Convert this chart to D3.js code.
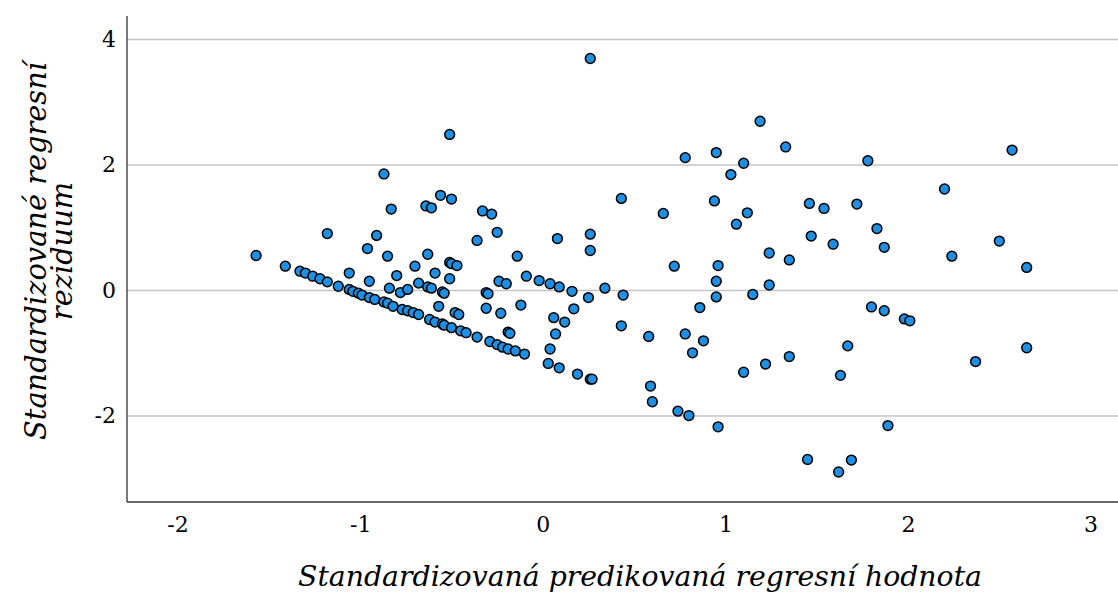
<!DOCTYPE html>
<html><head><meta charset="utf-8">
<script src="https://cdn.jsdelivr.net/npm/d3@7/dist/d3.min.js"></script>
<style>html,body{margin:0;padding:0;background:#fff;}svg{display:block;}</style>
</head><body>
<svg id="c" width="1118" height="593"></svg>
<script>
// Standardized predicted values (x)
const predicted = [
 -0.87,-0.83,-0.64,-0.61,-1.18,-0.91,-0.96,-0.85,-0.63,-1.57,
 -1.41,-1.33,-1.30,-1.26,-1.22,-1.18,-1.12,-1.06,-1.04,-1.01,-0.99,-0.95,-0.92,-0.87,-0.85,-0.82,-0.77,-0.74,-0.71,-0.68,-0.62,-0.59,-0.55,-0.54,-0.50,-0.45,-0.42,-0.36,-0.29,-0.25,-0.22,-0.19,-0.15,-0.10,
 -1.06,-0.95,-0.80,-0.84,-0.78,-0.74,-0.70,-0.68,-0.63,-0.61,-0.59,-0.55,-0.54,-0.57,
 -0.56,-0.50,-0.51,-0.33,-0.28,-0.25,-0.36,-0.51,-0.50,-0.47,-0.51,-0.31,-0.30,-0.24,-0.20,-0.14,-0.09,-0.12,-0.31,-0.23,-0.48,-0.46,-0.19,-0.18,
 0.26,0.43,0.08,0.26,0.26,-0.02,0.04,0.09,0.16,0.25,0.34,0.44,0.06,0.12,0.17,0.07,0.04,0.43,0.03,0.09,0.19,0.26,0.27,
 0.78,0.95,1.10,1.33,1.19,1.03,0.66,0.94,1.12,1.06,1.46,1.54,1.47,1.59,1.24,1.35,0.72,0.96,0.95,1.24,0.95,1.15,0.86,0.58,0.78,0.88,0.82,1.10,1.22,1.35,0.59,0.60,0.74,0.80,0.96,1.45,
 1.78,2.57,2.20,1.72,1.83,1.87,2.24,2.50,2.65,1.80,1.87,1.98,2.01,1.67,1.63,2.37,2.65,1.89,1.69,1.62
];
// Standardized residuals (y)
const residual = [
 1.85,1.29,1.34,1.31,0.90,0.87,0.66,0.54,0.57,0.55,
 0.38,0.30,0.27,0.22,0.18,0.13,0.06,0.01,-0.02,-0.05,-0.08,-0.12,-0.15,-0.19,-0.21,-0.26,-0.31,-0.33,-0.36,-0.39,-0.47,-0.51,-0.54,-0.56,-0.60,-0.65,-0.68,-0.75,-0.82,-0.87,-0.91,-0.94,-0.97,-1.02,
 0.27,0.14,0.23,0.03,-0.04,0.01,0.38,0.11,0.05,0.03,0.27,-0.03,-0.05,-0.26,
 1.51,1.45,2.48,1.26,1.21,0.92,0.79,0.44,0.42,0.39,0.18,-0.04,-0.06,0.14,0.10,0.54,0.22,-0.24,-0.29,-0.37,-0.36,-0.39,-0.67,-0.69,
 3.69,1.46,0.82,0.89,0.63,0.15,0.10,0.05,-0.02,-0.12,0.03,-0.08,-0.44,-0.51,-0.30,-0.70,-0.94,-0.57,-1.17,-1.24,-1.34,-1.42,-1.42,
 2.11,2.19,2.02,2.28,2.69,1.84,1.22,1.42,1.23,1.05,1.38,1.30,0.86,0.73,0.59,0.48,0.38,0.39,0.14,0.08,-0.11,-0.07,-0.28,-0.74,-0.70,-0.81,-1.00,-1.31,-1.18,-1.06,-1.53,-1.78,-1.93,-2.00,-2.18,-2.70,
 2.06,2.23,1.61,1.37,0.98,0.68,0.54,0.78,0.36,-0.27,-0.33,-0.46,-0.49,-0.89,-1.36,-1.14,-0.92,-2.16,-2.71,-2.90
];
const xTicks = [-2, -1, 0, 1, 2, 3];
const yTicks = [-2, 0, 2, 4];
const xTitle = "Standardizovaná predikovaná regresní hodnota";
const yTitleLines = ["Standardizované regresní", "reziduum"];

const svg = d3.select("#c");
const L = 127, R = 1118, T = 16, B = 502;
const x = d3.scaleLinear().domain([-2.277, 3.150]).range([L, R]);
const y = d3.scaleLinear().domain([-3.378, 4.367]).range([B, T]);
const serif = "'DejaVu Serif', 'Liberation Serif', serif";
const fmt = d => String(d);

// gridlines
const yAxis = d3.axisLeft(y).tickValues(yTicks).tickSize(-(R - L)).tickFormat(fmt).tickPadding(11);
const gy = svg.append("g").attr("transform", `translate(${L},0)`).call(yAxis);
gy.select(".domain").remove();
gy.selectAll(".tick line").attr("stroke", "#c4c4c4").attr("stroke-width", 1.5);
gy.selectAll(".tick text").attr("font-family", serif).attr("font-size", 22).attr("fill", "#000");

const xAxis = d3.axisBottom(x).tickValues(xTicks).tickSize(0).tickFormat(fmt).tickPadding(14);
const gx = svg.append("g").attr("transform", `translate(0,${B})`).call(xAxis);
gx.select(".domain").remove();
gx.selectAll(".tick text").attr("font-family", serif).attr("font-size", 22).attr("fill", "#000");

// axis lines
svg.append("line").attr("x1", L).attr("x2", L).attr("y1", T).attr("y2", B).attr("stroke", "#333").attr("stroke-width", 1.3);
svg.append("line").attr("x1", L).attr("x2", R).attr("y1", B).attr("y2", B).attr("stroke", "#333").attr("stroke-width", 1.3);

// points
svg.append("g").selectAll("circle").data(d3.range(predicted.length)).join("circle")
  .attr("cx", i => x(predicted[i])).attr("cy", i => y(residual[i])).attr("r", 4.9)
  .attr("fill", "#1f8fe3").attr("stroke", "#000").attr("stroke-width", 1.5);

// titles
function fit(sel, w) {
  const len = sel.node().getComputedTextLength();
  const fs = parseFloat(sel.attr("font-size"));
  sel.attr("font-size", fs * w / len);
}
const xt = svg.append("text").attr("x", 640).attr("y", 586).attr("text-anchor", "middle")
  .attr("font-family", serif).attr("font-style", "italic").attr("font-size", 28).attr("fill", "#000").text(xTitle);
fit(xt, 684);

const yt1 = svg.append("text").attr("transform", "translate(46,251) rotate(-90)").attr("text-anchor", "middle")
  .attr("font-family", serif).attr("font-style", "italic").attr("font-size", 28).attr("fill", "#000").text(yTitleLines[0]);
fit(yt1, 378);
const yt2 = svg.append("text").attr("transform", "translate(72,251) rotate(-90)").attr("text-anchor", "middle")
  .attr("font-family", serif).attr("font-style", "italic").attr("font-size", yt1.attr("font-size")).attr("fill", "#000").text(yTitleLines[1]);
</script>
</body></html>
